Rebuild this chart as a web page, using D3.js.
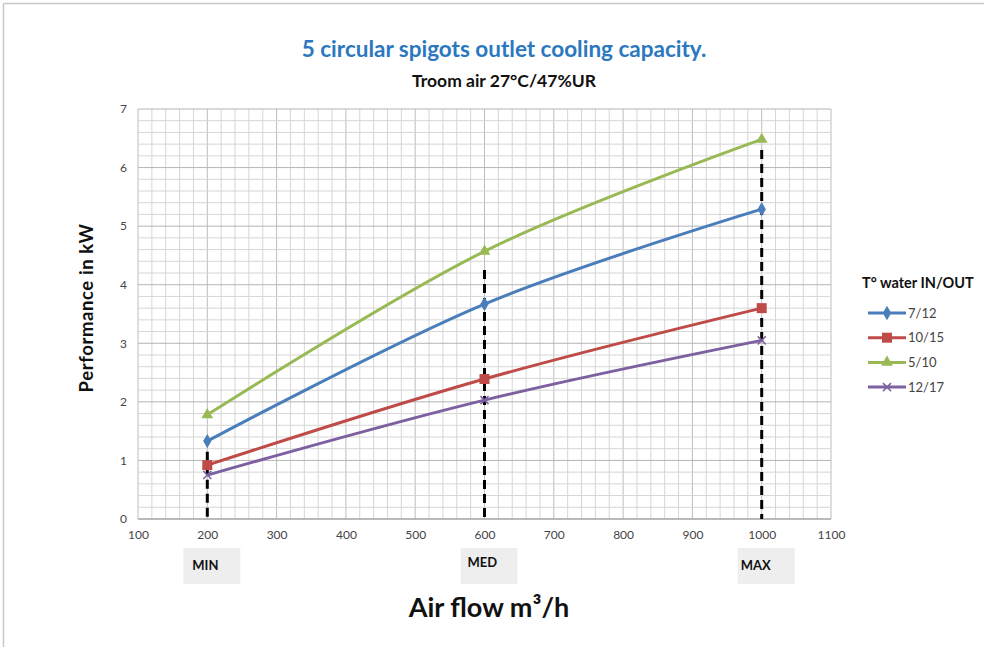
<!DOCTYPE html>
<html>
<head>
<meta charset="utf-8">
<script src="https://cdn.jsdelivr.net/npm/d3@7"></script>
<style>
  body { margin: 0; background: #fff; }
  svg { font-family: Lato, "Open Sans", sans-serif; }
</style>
</head>
<body>
<script>
// data
var airFlow = [200, 600, 1000];
var seriesNames = ['7/12', '10/15', '5/10', '12/17'];
var seriesColors = ['#4a7ebb', '#be4b48', '#98b954', '#7d60a0'];
var seriesShapes = ['diamond', 'square', 'triangle', 'cross'];
var values712 = [1.33, 3.67, 5.29];
var values1015 = [0.92, 2.39, 3.60];
var values510 = [1.78, 4.57, 6.48];
var values1217 = [0.75, 2.03, 3.05];
var xTicks = [100, 200, 300, 400, 500, 600, 700, 800, 900, 1000, 1100];
var yTicks = [0, 1, 2, 3, 4, 5, 6, 7];
var refFlows = [200, 600, 1000];
var refTops = [1.15, 4.25, 6.3];
var refLabels = ['MIN', 'MED', 'MAX'];

var allValues = [values712, values1015, values510, values1217];

var width = 984, height = 647;
var svg = d3.select('body').append('svg').attr('width', width).attr('height', height);

// frame lines (top + left)
svg.append('line').attr('x1', 3.5).attr('x2', width).attr('y1', 3.5).attr('y2', 3.5).attr('stroke', '#c8c8c8').attr('stroke-width', 1.5);
svg.append('line').attr('x1', 3.5).attr('x2', 3.5).attr('y1', 3.5).attr('y2', height).attr('stroke', '#c8c8c8').attr('stroke-width', 1.5);

var x = d3.scaleLinear().domain([100, 1100]).range([138, 831]);
var y = d3.scaleLinear().domain([0, 7]).range([519, 109]);

// grid
var grid = svg.append('g');
grid.selectAll('line.vminor')
  .data(d3.range(100, 1100.1, 20))
  .enter().append('line')
    .attr('class', 'vminor')
    .attr('x1', d => x(d)).attr('x2', d => x(d))
    .attr('y1', y(0)).attr('y2', y(7))
    .attr('stroke', d => d % 100 === 0 ? '#bdbdbd' : '#d6d6d6')
    .attr('stroke-width', 1)
grid.selectAll('line.hminor')
  .data(d3.range(0, 35.1, 1).map(d => d / 5))
  .enter().append('line')
    .attr('class', 'hminor')
    .attr('x1', x(100)).attr('x2', x(1100))
    .attr('y1', d => y(d)).attr('y2', d => y(d))
    .attr('stroke', d => Math.abs(d - Math.round(d)) < 1e-6 ? '#b5b5b5' : '#d6d6d6')
    .attr('stroke-width', 1)

// axis line at bottom
svg.append('line').attr('x1', x(100)).attr('x2', x(1100)).attr('y1', y(0)).attr('y2', y(0)).attr('stroke', '#9a9a9a')

// tick labels
var xAxis = svg.append('g').attr('transform', `translate(0, ${y(0) + 8})`)
  .call(d3.axisBottom(x).tickValues(xTicks).tickSize(0).tickFormat(d3.format('d')))
xAxis.select('.domain').remove()
xAxis.selectAll('text').attr('font-size', 12).attr('fill', '#444').attr('font-family', 'Lato, sans-serif')

var yAxis = svg.append('g').attr('transform', `translate(${x(100) - 8}, 0)`)
  .call(d3.axisLeft(y).tickValues(yTicks).tickSize(0).tickFormat(d3.format('d')))
yAxis.select('.domain').remove()
yAxis.selectAll('text').attr('font-size', 12).attr('fill', '#444').attr('font-family', 'Lato, sans-serif')

// dashed reference lines
svg.selectAll('line.ref')
  .data(refFlows)
  .enter().append('line')
    .attr('class', 'ref')
    .attr('x1', d => x(d)).attr('x2', d => x(d))
    .attr('y1', (d, i) => y(refTops[i])).attr('y2', y(0))
    .attr('stroke', '#000').attr('stroke-width', 3)
    .attr('stroke-dasharray', '9,5')

// MIN / MED / MAX boxes
var boxes = svg.selectAll('g.lbl')
  .data(refFlows)
  .enter().append('g')
    .attr('class', 'lbl')
    .attr('transform', d => `translate(${x(d)}, 566)`)
boxes.append('rect')
  .attr('x', -24).attr('y', -18).attr('width', 57).attr('height', 36)
  .attr('fill', '#eeeeee')
boxes.append('text')
  .attr('x', (d, i) => [-15, -17, -21][i]).attr('y', (d, i) => i === 1 ? 1 : 4)
  .attr('font-size', 13).attr('font-weight', 'bold').attr('fill', '#111')
  .text((d, i) => refLabels[i])

// series
var line = d3.line()
  .x((d, i) => x(airFlow[i]))
  .y(d => y(d))
  .curve(d3.curveCatmullRom.alpha(0))

function drawMarker(g, shape, color) {
  if (shape === 'diamond') {
    g.append('path').attr('d', d3.symbol().type(d3.symbolDiamond).size(60)()).attr('fill', color)
  } else if (shape === 'square') {
    g.append('rect').attr('x', -5).attr('y', -5).attr('width', 10).attr('height', 10).attr('fill', color)
  } else if (shape === 'triangle') {
    g.append('path').attr('d', d3.symbol().type(d3.symbolTriangle).size(60)()).attr('fill', color)
  } else {
    g.append('path').attr('d', 'M-4,-4L4,4M-4,4L4,-4').attr('stroke', color).attr('stroke-width', 1.5).attr('fill', 'none')
  }
}

for (let s = 0; s < allValues.length; s++) {
  svg.append('path')
    .attr('fill', 'none')
    .attr('stroke', seriesColors[s])
    .attr('stroke-width', 3)
    .attr('d', line(allValues[s]))

  svg.selectAll('g.pt' + s)
    .data(allValues[s])
    .enter().append('g')
      .attr('class', 'pt' + s)
      .attr('transform', (d, i) => `translate(${x(airFlow[i])}, ${y(d)})`)
      .each(function () { drawMarker(d3.select(this), seriesShapes[s], seriesColors[s]) })
}

// titles
svg.append('text').attr('x', 504).attr('y', 57).attr('text-anchor', 'middle')
  .attr('font-size', 22.5).attr('font-weight', 'bold').attr('fill', '#2b78bf')
  .text('5 circular spigots outlet cooling capacity.')
svg.append('text').attr('x', 504).attr('y', 87).attr('text-anchor', 'middle')
  .attr('font-size', 17.5).attr('font-weight', 'bold').attr('fill', '#111')
  .text('Troom air 27°C/47%UR')

svg.append('text').attr('x', 489).attr('y', 617).attr('text-anchor', 'middle')
  .attr('font-size', 27).attr('font-weight', 'bold').attr('fill', '#111')
  .text('Air flow m³/h')
svg.append('text').attr('transform', 'translate(93, 308) rotate(-90)').attr('text-anchor', 'middle')
  .attr('font-size', 18.5).attr('font-weight', 'bold').attr('fill', '#111')
  .attr('letter-spacing', 0.6)
  .text('Performance in kW')

// legend
var legend = svg.append('g')
legend.append('text').attr('x', 862).attr('y', 288)
  .attr('font-size', 14.5).attr('font-weight', 'bold').attr('fill', '#111')
  .text('T° water IN/OUT')
var items = legend.selectAll('g.item')
  .data(seriesNames)
  .enter().append('g')
    .attr('class', 'item')
    .attr('transform', (d, i) => `translate(868, ${313 + i * 24.7})`)
items.append('line').attr('x1', 0).attr('x2', 38).attr('y1', 0).attr('y2', 0)
  .attr('stroke', (d, i) => seriesColors[i]).attr('stroke-width', 3)
items.each(function (d, i) {
  var m = d3.select(this).append('g').attr('transform', 'translate(19, 0)')
  drawMarker(m, seriesShapes[i], seriesColors[i])
})
items.append('text').attr('x', 40).attr('y', 4.5)
  .attr('font-size', 13).attr('fill', '#444')
  .text(d => d)
</script>
</body>
</html>
